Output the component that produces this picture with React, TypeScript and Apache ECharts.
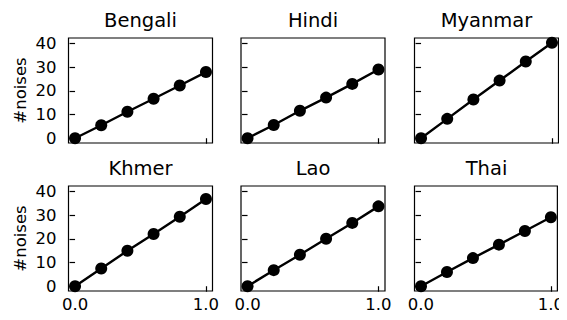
import React, { useEffect, useRef } from "react";
import * as echarts from "echarts";

const languages = ["Bengali", "Hindi", "Myanmar", "Khmer", "Lao", "Thai"];
const noiseLevels = [0, 0.2, 0.4, 0.6, 0.8, 1.0];
const bengali = [0, 5.5, 11.2, 16.7, 22.3, 28.0];
const hindi = [0, 5.6, 11.6, 17.2, 23.0, 29.1];
const myanmar = [0, 8.2, 16.4, 24.4, 32.5, 40.4];
const khmer = [0, 7.5, 15.0, 22.1, 29.4, 36.9];
const lao = [0, 6.8, 13.3, 20.1, 26.8, 33.8];
const thai = [0, 6.0, 11.9, 17.6, 23.4, 29.2];
const seriesValues = [bengali, hindi, myanmar, khmer, lao, thai];
const yTicks = [0, 10, 20, 30, 40];
const xTicks = [0, 1];

const FONT = "DejaVu Sans";

export default function App() {
  const ref = useRef<HTMLDivElement>(null);
  useEffect(() => {
    if (!ref.current) return;
    const chart = echarts.init(ref.current, undefined, { renderer: "svg" });
    const lefts = [68.5, 241, 414.5];
    const tops = [38, 186];
    const W = 144;
    const H = 105;
    const grids: any[] = [];
    const xAxes: any[] = [];
    const yAxes: any[] = [];
    const series: any[] = [];
    const graphics: any[] = [];
    languages.forEach((lang, i) => {
      const r = Math.floor(i / 3);
      const c = i % 3;
      grids.push({
        left: lefts[c],
        top: tops[r],
        width: W,
        height: H,
        show: true,
        borderColor: "#000",
        borderWidth: 1.2,
        backgroundColor: "transparent",
        containLabel: false,
      });
      xAxes.push({
        type: "value",
        gridIndex: i,
        min: -0.05,
        max: 1.05,
        axisLine: { show: false },
        splitLine: { show: false },
        axisTick: {
          show: true,
          customValues: xTicks,
          length: 5.5,
          lineStyle: { color: "#000", width: 1.2 },
        },
        axisLabel: {
          show: r === 1,
          customValues: xTicks,
          formatter: (v: number) => v.toFixed(1),
          margin: 5,
          color: "#000",
          fontFamily: FONT,
          fontSize: 16.5,
        },
      });
      yAxes.push({
        type: "value",
        gridIndex: i,
        min: -2.02,
        max: 42.42,
        name: c === 0 ? "#noises" : "",
        nameLocation: "middle",
        nameGap: 40,
        nameRotate: 90,
        nameTextStyle: { color: "#000", fontFamily: FONT, fontSize: 16.5 },
        axisLine: { show: false },
        splitLine: { show: false },
        axisTick: {
          show: true,
          customValues: yTicks,
          length: 5.5,
          lineStyle: { color: "#000", width: 1.2 },
        },
        axisLabel: {
          show: c === 0,
          customValues: yTicks,
          margin: 12,
          color: "#000",
          fontFamily: FONT,
          fontSize: 16.5,
        },
      });
      series.push({
        type: "line",
        xAxisIndex: i,
        yAxisIndex: i,
        data: noiseLevels.map((x, k) => [x, seriesValues[i][k]]),
        symbol: "circle",
        symbolSize: 12,
        showSymbol: true,
        lineStyle: { color: "#000", width: 2.4 },
        itemStyle: { color: "#000" },
        silent: true,
      });
      graphics.push({
        type: "text",
        x: lefts[c] + W / 2,
        y: tops[r] - 17.5,
        style: {
          text: lang,
          fill: "#000",
          font: `19.5px "${FONT}"`,
          align: "center",
          verticalAlign: "middle",
          textAlign: "center",
          textVerticalAlign: "middle",
        },
      });
    });
    chart.setOption({
      animation: false,
      backgroundColor: "#fff",
      grid: grids,
      xAxis: xAxes,
      yAxis: yAxes,
      series,
      graphic: graphics,
    });
    return () => chart.dispose();
  }, []);
  return <div ref={ref} style={{ width: 567, height: 320, margin: -8 }} />;
}
